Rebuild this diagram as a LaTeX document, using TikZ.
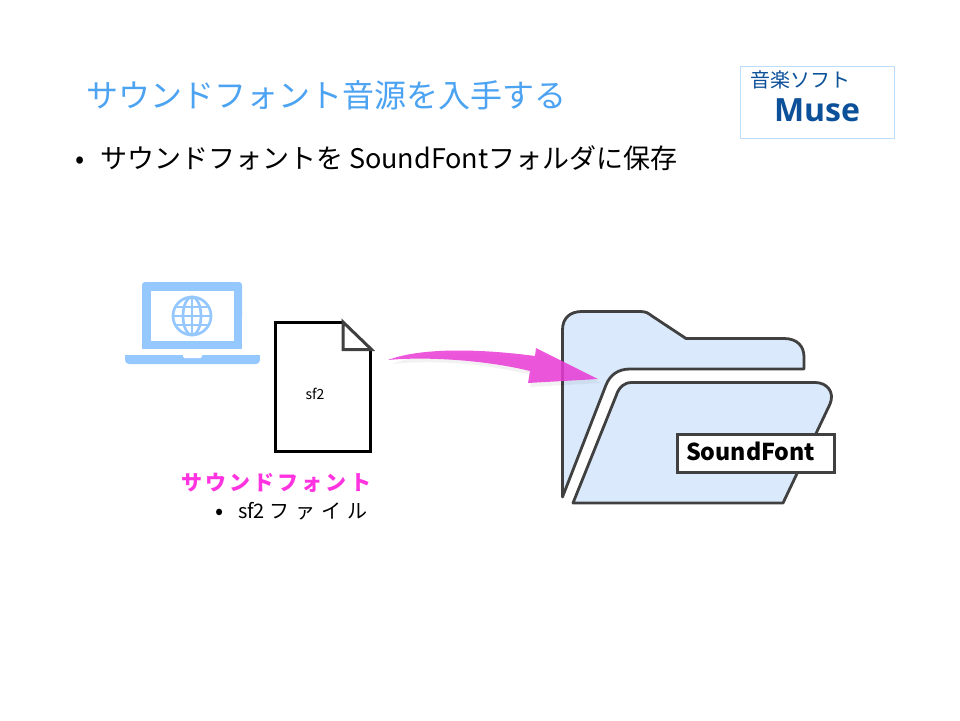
\documentclass[tikz,border=0pt]{standalone}
\usepackage{fontspec}
\setmainfont{Noto Sans CJK JP}
\newfontfamily\jpspaced[LetterSpace=15]{Noto Sans CJK JP}
\newfontfamily\jpwide[LetterSpace=30]{Noto Sans CJK JP}
\newfontfamily\sffont{Open Sans}
\definecolor{titleblue}{HTML}{4CA3F2}
\definecolor{lapblue}{HTML}{94C8FF}
\definecolor{folderfill}{HTML}{DAEAFC}
\definecolor{foldline}{HTML}{404040}
\definecolor{musecol}{HTML}{0B5099}
\definecolor{boxline}{HTML}{BBDDFB}
\definecolor{arrowpink}{HTML}{E93AD6}
\definecolor{sfpink}{HTML}{FF33E0}
\tikzset{
  txt/.style={inner sep=0pt,outer sep=0pt,anchor=base west},
  folderpart/.style={draw=foldline,line width=2.8pt,fill=folderfill,line join=round},
  lap/.style={fill=lapblue,draw=none},
  globeline/.style={draw=lapblue,line width=2.7pt},
}
\begin{document}
\begin{tikzpicture}[x=1pt,y=-1pt]
\useasboundingbox (0,0) rectangle (960,720);
\fill[white] (0,0) rectangle (960,720);
% title
\node[txt,text=titleblue,font=\fontsize{32}{32}\selectfont] (title) at (86,107) {サウンドフォント音源を入手する};
\node[txt,font=\fontsize{27}{27}\selectfont] (bulletmark) at (75,168) {•};
\node[txt,font=\fontsize{27}{27}\selectfont] (bullet) at (100,168) {サウンドフォントを SoundFontフォルダに保存};
% Muse box
\draw[boxline,line width=1pt] (740.5,66) rectangle (894.5,138);
\node[txt,text=musecol,font=\fontsize{20}{20}\selectfont] (soft) at (750,87) {音楽ソフト};
\node[txt,text=musecol,font=\fontsize{32}{32}\sffont\bfseries] (muse) at (774,121) {Muse};
% laptop
\fill[lap,rounded corners=3pt] (142,282) rectangle (242,320);
\fill[lap] (142,300) rectangle (242,349);
\fill[white] (151,291) rectangle (234,341);
\fill[lap,rounded corners=4pt] (125,355) rectangle (260,364);
\fill[lap] (125,355) rectangle (260,359);
\fill[white,rounded corners=1.5pt] (183,350) rectangle (202,358);
\fill[white] (180,349.5) rectangle (205,355);
\draw[globeline] (192,316) circle (19);
\draw[globeline] (192,316) ellipse (9 and 19);
\draw[globeline] (192,297) -- (192,335);
\draw[globeline] (173,316) -- (211,316);
\draw[globeline] (176,307) -- (208,307);
\draw[globeline] (176,325) -- (208,325);
% document
\draw[black,line width=3pt,fill=white,line join=miter] (343,322.5) -- (275.5,322.5) -- (275.5,451) -- (370.5,451) -- (370.5,350);
\draw[foldline,line width=3pt,line join=miter] (343,322) -- (343,349.5) -- (371.5,349.5) -- cycle;
\node[inner sep=0pt,font=\fontsize{14}{14}\selectfont] (sf) at (315,394) {sf2};
\node[txt,text=sfpink,font=\fontsize{21}{21}\selectfont\jpspaced\bfseries] (sfname) at (181,490) {サウンドフォント};
\node[txt,font=\fontsize{24}{24}\selectfont] (sfb) at (215,519) {•};
\node[txt,font=\fontsize{20}{20}\selectfont] (sfkind) at (238,518) {sf2 {\jpwide ファイル}};
% folder back
\draw[folderpart] (562.5,497) -- (562.5,330) .. controls (562.5,318) and (570,311.5) .. (582,311.5)
  -- (640,311.5) .. controls (646,311.5) and (648,313) .. (652,316) -- (686,338.5)
  -- (784,338.5) .. controls (797,338.5) and (804,346) .. (804,357) -- (804,369)
  -- (630,369) .. controls (618,369) and (610,375) .. (606,385) -- cycle;
% folder front
\draw[folderpart] (573,503) -- (616,396) .. controls (619,387) and (624,382.5) .. (632,382.5)
  -- (815,382.5) .. controls (827,382.5) and (835,392) .. (830,404) -- (783,503) -- cycle;
% label
\node[draw=foldline,line width=2.4pt,fill=white,minimum width=157pt,minimum height=38pt,inner sep=0pt] (labelbox) at (756,453.5) {};
\node[txt,font=\fontsize{23.2}{23}\selectfont\bfseries] (labeltext) at (686,460) {SoundFont};
% arrow shadow and body
\fill[black,opacity=0.05] (392,364) .. controls (430,348) and (490,354) .. (537,360) -- (538,352) -- (601,383) -- (530,387)
  -- (532,375) .. controls (490,365) and (440,359) .. cycle;
\fill[arrowpink,fill opacity=0.85] (388,360) .. controls (425,346) and (490,350) .. (535,356)
  -- (536,348) -- (598,379) -- (528,383) -- (530,371)
  .. controls (490,361) and (430,356) .. (388,360) -- cycle;
\end{tikzpicture}
\end{document}
